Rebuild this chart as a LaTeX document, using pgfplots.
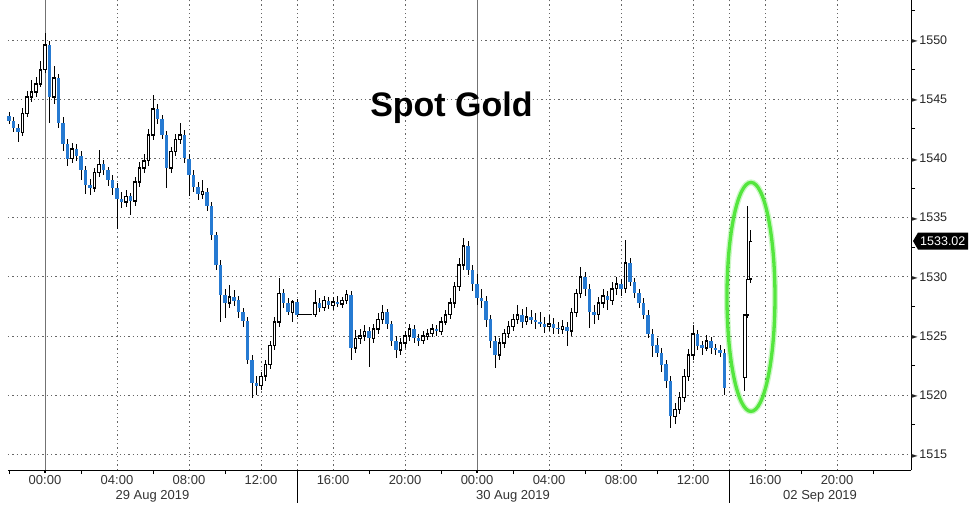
\documentclass[border=0pt]{standalone}
\usepackage{fontspec}
\setmainfont{Liberation Sans}
\newfontfamily\dejavu{DejaVu Sans}
\usepackage{pgfplots}
\usepackage{pgfplotstable}
\pgfplotsset{compat=1.18}
\definecolor{candleblue}{RGB}{38,122,210}
\definecolor{ringgreen}{RGB}{84,230,62}
\newcommand{\tri}{{\dejavu\fontsize{8}{8}\selectfont\raisebox{0.6pt}{►}}\hspace{1.6pt}}

% prices (USD/oz); t = hours after 29 Aug 2019 00:00 on the chart's time scale
\pgfplotstableread{
t o h l c
-2.00 1543.6 1543.9 1542.9 1543.2
-1.75 1543.2 1543.5 1542.2 1542.6
-1.50 1542.6 1542.9 1541.4 1542.2
-1.25 1542.2 1544.3 1541.9 1543.8
-1.00 1543.8 1545.7 1543.5 1545.2
-0.75 1545.2 1546.6 1544.8 1545.6
-0.50 1545.6 1546.9 1545.2 1546.3
-0.25 1546.3 1548.2 1546.0 1547.5
0.00 1547.5 1550.6 1547.2 1549.6
0.25 1549.6 1549.9 1543.0 1545.2
0.50 1545.2 1547.8 1544.6 1546.8
0.75 1546.8 1547.1 1542.6 1543.0
1.00 1543.0 1543.5 1540.6 1541.2
1.25 1541.2 1541.6 1539.4 1540.0
1.50 1540.0 1541.3 1539.6 1540.8
1.75 1540.8 1541.2 1539.8 1540.2
2.00 1540.2 1540.6 1538.2 1539.0
2.25 1539.0 1539.4 1537.0 1537.8
2.50 1537.8 1538.3 1536.9 1537.5
2.75 1537.5 1539.2 1537.2 1538.8
3.00 1538.8 1540.7 1538.4 1539.5
3.25 1539.5 1539.9 1538.6 1539.0
3.50 1539.0 1539.3 1537.7 1538.2
3.75 1538.2 1538.6 1536.9 1537.5
4.00 1537.5 1537.9 1534.0 1536.6
4.25 1536.6 1537.2 1535.8 1536.3
4.50 1536.3 1537.3 1535.9 1536.8
4.75 1536.8 1537.1 1535.2 1536.4
5.00 1536.4 1538.4 1536.0 1538.0
5.25 1538.0 1539.7 1537.6 1539.2
5.50 1539.2 1540.4 1538.8 1539.8
5.75 1539.8 1542.5 1539.4 1542.0
6.00 1542.0 1545.4 1541.6 1544.2
6.25 1544.2 1544.6 1542.9 1543.3
6.50 1543.3 1543.7 1541.6 1542.0
6.75 1542.0 1542.3 1537.5 1539.2
7.00 1539.2 1541.0 1538.8 1540.6
7.25 1540.6 1542.1 1540.2 1541.6
7.50 1541.6 1543.0 1541.2 1542.0
7.75 1542.0 1542.4 1539.6 1540.0
8.00 1540.0 1540.4 1536.8 1538.6
8.25 1538.6 1539.0 1537.2 1537.6
8.50 1537.6 1538.0 1536.5 1537.0
8.75 1537.0 1538.2 1536.6 1537.2
9.00 1537.2 1537.5 1535.6 1536.0
9.25 1536.0 1536.3 1533.1 1533.5
9.50 1533.5 1533.8 1530.6 1531.0
9.75 1531.0 1531.4 1526.2 1528.5
10.00 1528.5 1529.0 1526.5 1527.8
10.25 1527.8 1529.3 1527.4 1528.3
10.50 1528.3 1528.9 1527.5 1528.0
10.75 1528.0 1528.4 1526.5 1527.0
11.00 1527.0 1527.4 1525.8 1526.3
11.25 1526.3 1526.6 1522.6 1523.0
11.50 1523.0 1523.4 1519.8 1521.0
11.75 1521.0 1521.6 1520.0 1520.8
12.00 1520.8 1522.0 1520.4 1521.6
12.25 1521.6 1523.0 1521.2 1522.6
12.50 1522.6 1524.6 1522.2 1524.2
12.75 1524.2 1526.6 1523.8 1526.2
13.00 1526.2 1529.9 1525.8 1528.6
13.25 1528.6 1529.0 1527.4 1527.8
13.50 1527.8 1528.2 1526.8 1527.0
13.75 1527.0 1528.0 1526.2 1527.9
14.00 1527.9 1528.1 1526.6 1526.8
15.00 1526.8 1528.9 1526.6 1527.8
15.25 1527.8 1528.2 1527.0 1527.4
15.50 1527.4 1528.4 1527.1 1528.0
15.75 1528.0 1528.3 1527.3 1527.6
16.00 1527.6 1528.3 1527.2 1527.9
16.25 1527.9 1528.4 1527.5 1527.7
16.50 1527.7 1528.3 1527.4 1528.0
16.75 1528.0 1528.9 1527.7 1528.5
17.00 1528.5 1528.8 1523.0 1524.0
17.25 1524.0 1525.5 1523.6 1524.8
17.50 1524.8 1525.6 1524.3 1525.0
17.75 1525.0 1525.9 1524.6 1525.4
18.00 1525.4 1525.8 1522.4 1524.8
18.25 1524.8 1526.0 1524.4 1525.6
18.50 1525.6 1526.9 1525.2 1526.4
18.75 1526.4 1527.6 1526.0 1527.0
19.00 1527.0 1527.3 1525.6 1526.0
19.25 1526.0 1526.3 1524.2 1524.6
19.50 1524.6 1525.0 1523.1 1523.8
19.75 1523.8 1524.8 1523.4 1524.4
20.00 1524.4 1525.4 1524.0 1525.0
20.25 1525.0 1526.0 1524.6 1525.6
20.50 1525.6 1525.9 1524.4 1524.8
20.75 1524.8 1525.2 1524.2 1524.6
21.00 1524.6 1525.4 1524.3 1525.0
21.25 1525.0 1525.6 1524.7 1525.2
21.50 1525.2 1526.0 1524.9 1525.6
21.75 1525.6 1525.9 1525.0 1525.4
22.00 1525.4 1526.6 1525.1 1526.2
22.25 1526.2 1527.2 1525.9 1526.8
22.50 1526.8 1528.2 1526.4 1527.8
22.75 1527.8 1529.6 1527.4 1529.2
23.00 1529.2 1531.6 1528.8 1531.0
23.25 1531.0 1533.3 1530.6 1532.6
23.50 1532.6 1533.0 1530.2 1530.6
23.75 1530.6 1531.0 1528.8 1529.4
24.00 1529.4 1530.2 1527.6 1528.2
24.25 1528.2 1529.0 1527.4 1528.0
24.50 1528.0 1528.4 1525.8 1526.4
24.75 1526.4 1526.8 1524.0 1524.6
25.00 1524.6 1525.0 1522.3 1523.4
25.25 1523.4 1524.8 1523.0 1524.4
25.50 1524.4 1525.6 1524.0 1525.2
25.75 1525.2 1526.3 1524.8 1525.8
26.00 1525.8 1526.9 1525.4 1526.4
26.25 1526.4 1527.6 1526.0 1526.8
26.50 1526.8 1527.3 1525.7 1526.2
26.75 1526.2 1527.5 1525.9 1526.6
27.00 1526.6 1527.2 1526.0 1526.4
27.25 1526.4 1526.9 1525.6 1526.2
27.50 1526.2 1527.0 1525.8 1526.0
27.75 1526.0 1526.6 1525.3 1525.8
28.00 1525.8 1526.8 1525.4 1526.0
28.25 1526.0 1526.5 1525.2 1525.7
28.50 1525.7 1526.2 1525.2 1525.6
28.75 1525.6 1526.4 1525.2 1525.8
29.00 1525.8 1526.2 1524.2 1525.4
29.25 1525.4 1527.4 1525.0 1527.0
29.50 1527.0 1529.0 1526.6 1528.6
29.75 1528.6 1530.8 1528.2 1530.0
30.00 1530.0 1530.4 1528.4 1529.0
30.25 1529.0 1529.4 1525.7 1527.0
30.50 1527.0 1527.6 1526.0 1526.8
30.75 1526.8 1528.3 1526.4 1527.8
31.00 1527.8 1529.0 1527.4 1528.4
31.25 1528.4 1528.8 1527.2 1528.0
31.50 1528.0 1529.6 1527.6 1529.0
31.75 1529.0 1530.0 1528.5 1529.4
32.00 1529.4 1529.8 1528.4 1529.0
32.25 1529.0 1533.1 1528.6 1531.2
32.50 1531.2 1531.6 1529.2 1529.6
32.75 1529.6 1529.9 1528.2 1528.6
33.00 1528.6 1529.0 1527.4 1527.8
33.25 1527.8 1528.2 1526.4 1526.8
33.50 1526.8 1527.2 1524.8 1525.2
33.75 1525.2 1525.6 1523.2 1524.2
34.00 1524.2 1524.8 1523.2 1523.6
34.25 1523.6 1524.0 1522.0 1522.6
34.50 1522.6 1523.0 1520.6 1521.2
34.75 1521.2 1521.6 1517.2 1518.2
35.00 1518.2 1519.3 1517.6 1518.8
35.25 1518.8 1520.3 1518.4 1519.8
35.50 1519.8 1522.2 1519.4 1521.6
35.75 1521.6 1523.9 1521.2 1523.4
36.00 1523.4 1525.9 1523.0 1525.2
36.25 1525.2 1525.5 1523.8 1524.2
36.50 1524.2 1524.6 1523.4 1524.0
36.75 1524.0 1525.1 1523.7 1524.6
37.00 1524.6 1524.9 1523.5 1524.0
37.25 1524.0 1524.3 1523.4 1523.8
37.50 1523.8 1524.2 1523.2 1523.6
37.75 1523.6 1523.9 1520.0 1520.6
38.88 1521.5 1526.8 1520.4 1526.8
39.04 1526.8 1536.0 1526.5 1529.8
39.20 1529.8 1534.0 1529.5 1533.0
}\candles

\begin{document}
\begin{tikzpicture}
% the y axis counts dollars above 1500, so that TeX dimensions stay small
\begin{axis}[
  scale only axis, width=903pt, height=470pt,
  xmin=-2.056, xmax=48.11, ymin=13.68, ymax=53.38,
  axis x line*=bottom, axis y line*=right,
  axis line style={black, line width=0.9pt},
  clip=false,
  xtick={0,4,8,12,14,16,20,24,28,32,36,38,40,44},
  xticklabels={00:00,04:00,08:00,12:00,{},16:00,20:00,00:00,04:00,08:00,12:00,{},16:00,20:00},
  minor xtick={-2,2,6,10,18,22,26,30,34,42,46},
  ytick={15,20,25,30,35,40,45,50},
  yticklabels={\tri 1515,\tri 1520,\tri 1525,\tri 1530,\tri 1535,\tri 1540,\tri 1545,\tri 1550},
  minor ytick={17.5,22.5,27.5,32.5,37.5,42.5,47.5,52.5},
  tick align=outside,
  major tick length=0pt, minor tick length=4pt,
  minor tick style={black, line width=0.8pt},
  grid=major,
  grid style={black!60, line width=0.6pt, dash pattern=on 1.3pt off 3pt},
  xticklabel style={font=\fontsize{13}{13}\selectfont, text=black!80, anchor=north, inner sep=0pt, yshift=-5pt},
  yticklabel style={font=\fontsize{12.5}{12.5}\selectfont, text=black!85, anchor=west, inner sep=0pt, xshift=0.4pt},
]
\coordinate (SW) at (rel axis cs:0,0);
% solid day lines
\draw[black!55, line width=0.8pt] (axis cs:0,13.68) -- (axis cs:0,53.38);
\draw[black!55, line width=0.8pt] (axis cs:24,13.68) -- (axis cs:24,53.38);

% wicks
\addplot[draw=none, mark=none, forget plot,
  error bars/.cd, y dir=both, y explicit, error mark=none,
  error bar style={draw=black, line width=0.85pt}]
  table[x=t, y expr={(\thisrow{h}+\thisrow{l})/2-1500}, y error expr={(\thisrow{h}-\thisrow{l})/2}] {\candles};
% down bodies
\addplot[draw=none, mark=none, forget plot,
  restrict expr to domain={\thisrow{o}-\thisrow{c}}{0.001:1000},
  error bars/.cd, y dir=both, y explicit, error mark=none,
  error bar style={draw=candleblue, line width=3.3pt}]
  table[x=t, y expr={(\thisrow{o}+\thisrow{c})/2-1500}, y error expr={abs(\thisrow{o}-\thisrow{c})/2}] {\candles};
% up bodies (outline)
\addplot[draw=none, mark=none, forget plot,
  restrict expr to domain={\thisrow{c}-\thisrow{o}}{0:1000},
  error bars/.cd, y dir=both, y explicit, error mark=none,
  error bar style={draw=black, line width=3.4pt}]
  table[x=t, y expr={(\thisrow{o}+\thisrow{c})/2-1500}, y error expr={abs(\thisrow{c}-\thisrow{o})/2+0.06}] {\candles};
% up bodies (hollow)
\addplot[draw=none, mark=none, forget plot,
  restrict expr to domain={\thisrow{c}-\thisrow{o}}{0:1000},
  error bars/.cd, y dir=both, y explicit, error mark=none,
  error bar style={draw=white, line width=1.8pt}]
  table[x=t, y expr={(\thisrow{o}+\thisrow{c})/2-1500}, y error expr={max(abs(\thisrow{c}-\thisrow{o})/2-0.07,0)}] {\candles};
% flat segment (no trades), price 1526.8
\addplot[black, line width=0.9pt, mark=none, forget plot] coordinates {(14.05,26.8) (14.85,26.8)};

% title
\node[font=\fontsize{34}{34}\selectfont\bfseries, anchor=base] at (axis cs:22.58,43.58) {Spot Gold};
% green ring
\draw[ringgreen, opacity=0.3, line width=6pt] (axis cs:39.22,28.3) ellipse [x radius=24pt, y radius=114.5pt];
\draw[ringgreen, line width=3.3pt] (axis cs:39.22,28.3) ellipse [x radius=24pt, y radius=114.5pt];
% separators and midnight ticks
\draw[black, line width=0.9pt] (axis cs:14,13.68) -- ++(0pt,-33pt);
\draw[black, line width=0.9pt] (axis cs:38,13.68) -- ++(0pt,-33pt);
\draw[black, line width=1.8pt] (axis cs:0,13.68) -- ++(0pt,-3pt);
\draw[black, line width=1.8pt] (axis cs:24,13.68) -- ++(0pt,-3pt);
% date labels
\node[font=\fontsize{13}{13}\selectfont, text=black!80, anchor=north, inner sep=0pt] at ([yshift=-20pt]axis cs:5.97,13.68) {29 Aug 2019};
\node[font=\fontsize{13}{13}\selectfont, text=black!80, anchor=north, inner sep=0pt] at ([yshift=-20pt]axis cs:26,13.68) {30 Aug 2019};
\node[font=\fontsize{13}{13}\selectfont, text=black!80, anchor=north, inner sep=0pt] at ([yshift=-20pt]axis cs:43.06,13.68) {02 Sep 2019};
% last price tag (1533.02)
\fill[black] (axis cs:48.11,33.02) ++(2pt,0pt) -- ++(5pt,8.5pt) -- ++(50pt,0pt) -- ++(0pt,-17pt) -- ++(-50pt,0pt) -- cycle;
\node[text=white, anchor=west, font=\fontsize{12.5}{12.5}\selectfont, inner sep=0pt] at ([xshift=9pt]axis cs:48.11,33.02) {1533.02};
\end{axis}
\pgfresetboundingbox
\path (SW) ++(-8pt,-36pt) rectangle ++(976pt,506pt);
\end{tikzpicture}
\end{document}
